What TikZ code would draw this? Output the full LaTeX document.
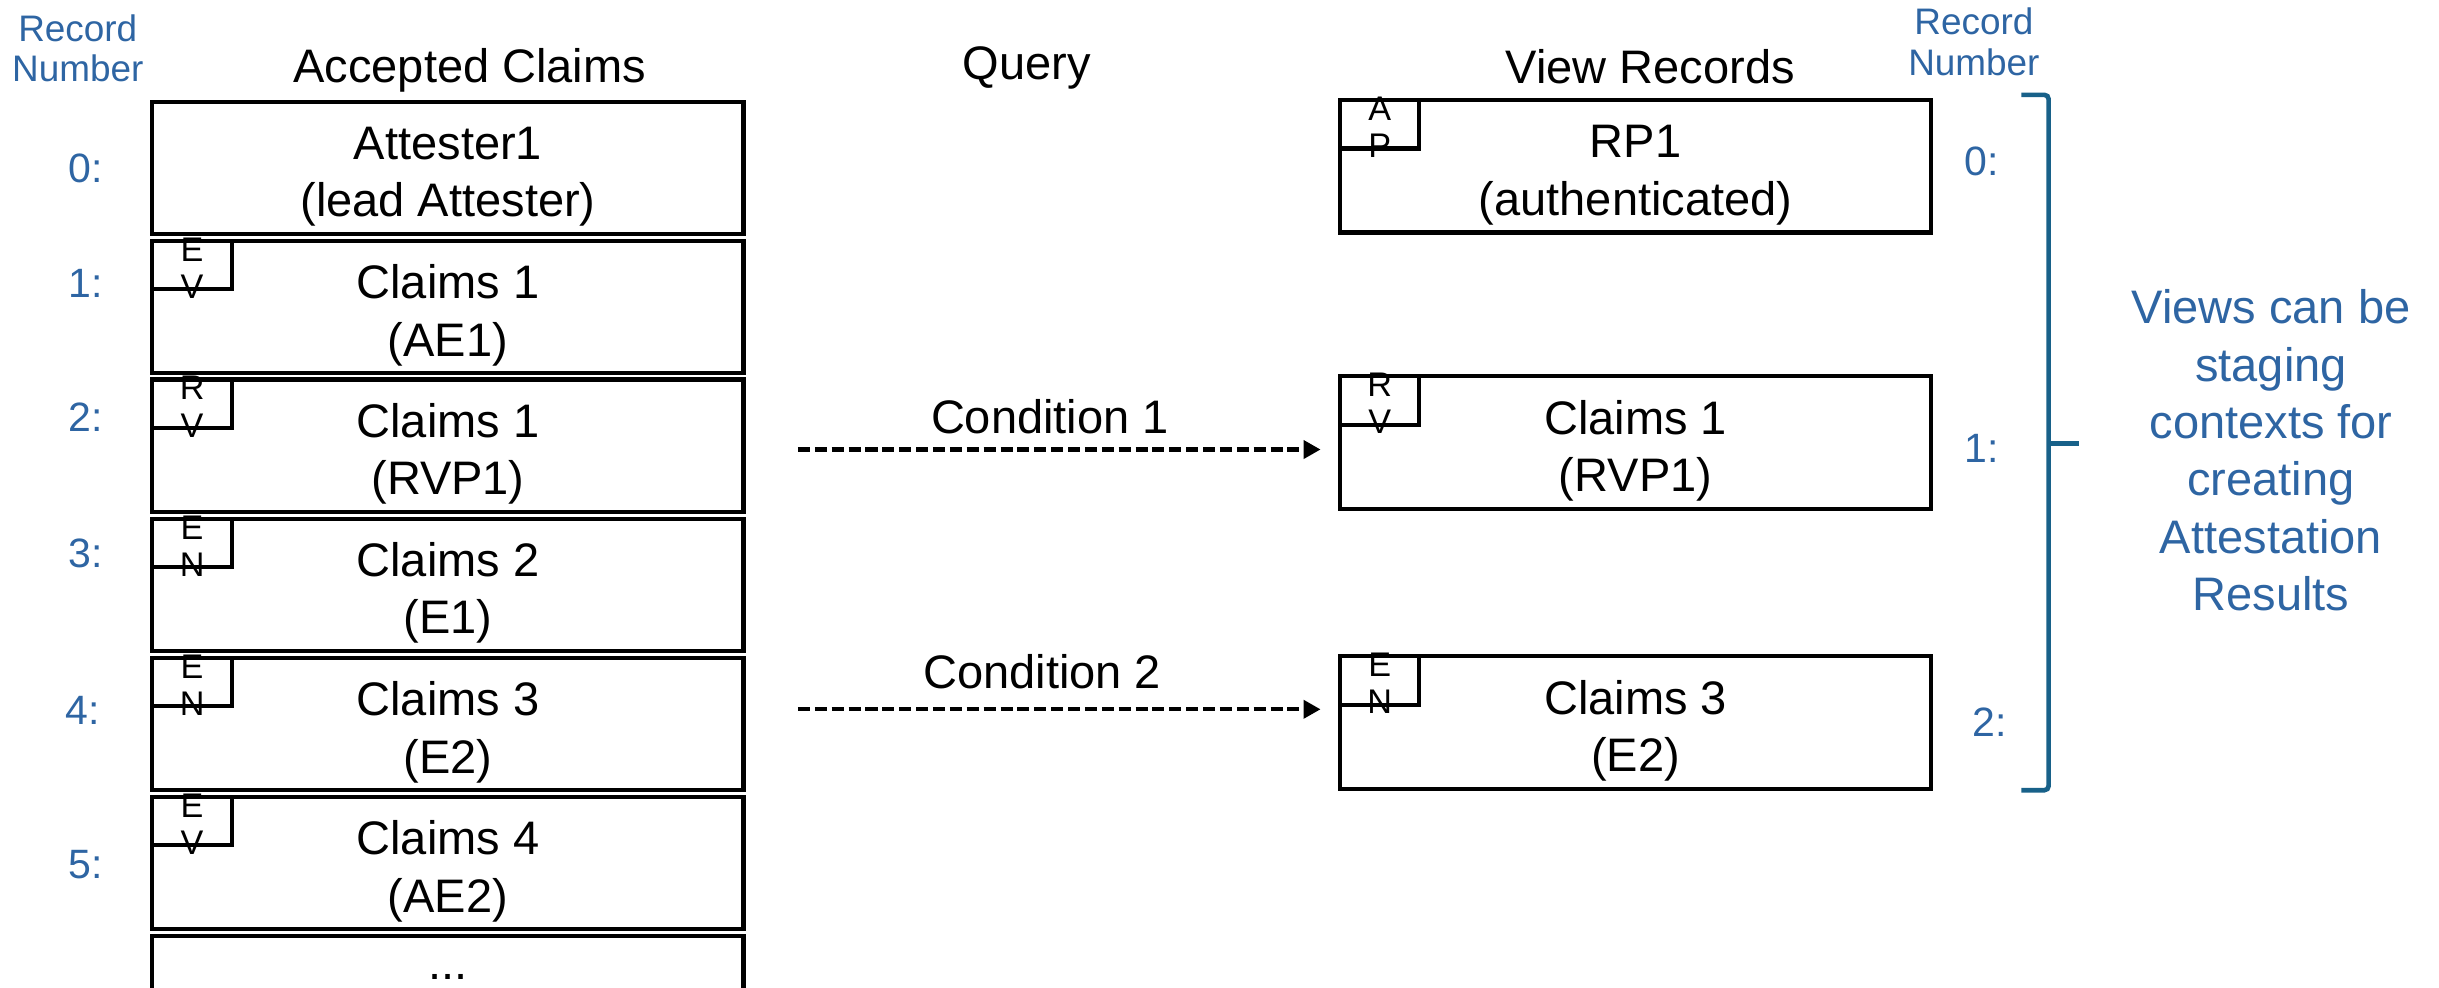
\documentclass[tikz,border=0pt]{standalone}
\usepackage{fontspec}
\setmainfont{Liberation Sans}
\usetikzlibrary{arrows.meta}
\usepackage{xcolor}
\definecolor{recblue}{RGB}{46,101,163}
\definecolor{braceblue}{RGB}{24,97,137}

\begin{document}
\begin{tikzpicture}[x=0.2mm, y=-0.2mm,
  rec/.style={draw, line width=1.5pt, outer sep=0pt, inner sep=0pt, minimum width=76mm, minimum height=17mm, align=center, text height=38pt, text depth=2.2pt, font=\fontsize{17.2}{21}\selectfont},
  flagbox/.style={draw, line width=1.5pt, outer sep=0pt, inner sep=0pt, minimum width=10.2mm, minimum height=6.2mm, anchor=north west},
  flagtxt/.style={inner sep=0pt, align=center, yshift=-0.4mm, font=\fontsize{12.5}{13.6}\selectfont},
  head/.style={inner sep=0pt, font=\fontsize{17.2}{21}\selectfont},
  num/.style={inner sep=0pt, align=center, text=recblue, font=\fontsize{13.5}{16}\selectfont},
  idx/.style={num, font=\fontsize{15}{16}\selectfont},
  query/.style={line width=1.6pt, dash pattern=on 1.55mm off 0.62mm, -{Triangle[length=2.2mm,width=2.3mm]}},
  brace/.style={draw=braceblue, line width=1.7pt, rounded corners=1.5pt}
]

\clip (0,0) rectangle (1568,635);

% headings
\node[num] (rnl) at (50,31) {Record\\[-1.2pt]Number};
\node[head] (acc) at (302,45) {Accepted Claims};
\node[head] (qry) at (660,44) {Query};
\node[head] (view) at (1061,43) {View Records};
\node[num] (rnr) at (1269,27) {Record\\[-1.2pt]Number};

% accepted claims
\node[rec] (a0) at (288,108) {Attester1\\(lead Attester)};
\node[rec] (a1) at (288,197.5) {Claims 1\\(AE1)};
\node[rec] (a2) at (288,286.5) {Claims 1\\(RVP1)};
\node[rec] (a3) at (288,376) {Claims 2\\(E1)};
\node[rec] (a4) at (288,465.5) {Claims 3\\(E2)};
\node[rec] (a5) at (288,555) {Claims 4\\(AE2)};
\node[rec] (a6) at (288,644.5) {};
\node[head, anchor=base] (dots) at (288,630) {...};

\node[flagbox] (fa1) at (a1.north west) {};
\node[flagtxt] at (fa1) {E\\V};
\node[flagbox] (fa2) at (a2.north west) {};
\node[flagtxt] at (fa2) {R\\V};
\node[flagbox] (fa3) at (a3.north west) {};
\node[flagtxt] at (fa3) {E\\N};
\node[flagbox] (fa4) at (a4.north west) {};
\node[flagtxt] at (fa4) {E\\N};
\node[flagbox] (fa5) at (a5.north west) {};
\node[flagtxt] at (fa5) {E\\V};

\node[idx] (n0) at (55,108) {0:};
\node[idx] (n1) at (55,182) {1:};
\node[idx] (n2) at (55,268) {2:};
\node[idx] (n3) at (55,356) {3:};
\node[idx] (n4) at (53,457) {4:};
\node[idx] (n5) at (55,556) {5:};

% view records
\node[rec] (v0) at (1051.5,107) {RP1\\(authenticated)};
\node[rec] (v1) at (1051.5,284.5) {Claims 1\\(RVP1)};
\node[rec] (v2) at (1051.5,464.5) {Claims 3\\(E2)};

\node[flagbox] (fv0) at (v0.north west) {};
\node[flagtxt] at (fv0) {A\\P};
\node[flagbox] (fv1) at (v1.north west) {};
\node[flagtxt] at (fv1) {R\\V};
\node[flagbox] (fv2) at (v2.north west) {};
\node[flagtxt] at (fv2) {E\\N};

\node[idx] (m0) at (1274,104) {0:};
\node[idx] (m1) at (1274,288) {1:};
\node[idx] (m2) at (1279,464) {2:};

% queries
\coordinate (q1s) at (513,289);
\coordinate (q1e) at (849,289);
\coordinate (q2s) at (513,456);
\coordinate (q2e) at (849,456);
\draw[query] (q1s) -- (q1e);
\draw[query] (q2s) -- (q2e);
\node[head] (c1) at (675,268) {Condition 1};
\node[head] (c2) at (670,432) {Condition 2};

% bracket
\coordinate (bt) at (1317,61);
\coordinate (bb) at (1317,508);
\coordinate (bm) at (1317,285);
\draw[brace] ([xshift=-10]bt) -- (bt) -- (bb) -- ([xshift=-10]bb);
\draw[brace] (bm) -- ([xshift=11]bm);

\node[num, font=\fontsize{17.2}{21}\selectfont] (note) at (1460,289.5)
  {Views can be\\staging\\contexts for\\creating\\Attestation\\Results};

\end{tikzpicture}
\end{document}
